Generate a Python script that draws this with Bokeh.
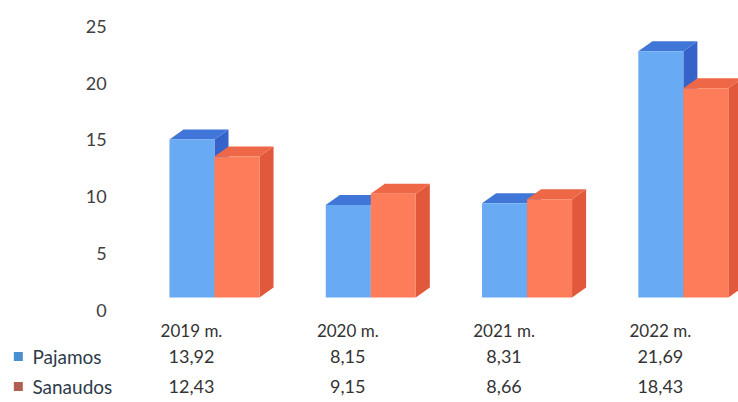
from bokeh.plotting import figure
from bokeh.models import Range1d
from bokeh.core.properties import value
from bokeh.embed import file_html
from bokeh.resources import INLINE

# ---- data ----
categories = ["2019 m.", "2020 m.", "2021 m.", "2022 m."]
series_names = ["Pajamos", "Sanaudos"]
pajamos = [13.92, 8.15, 8.31, 21.69]
sanaudos = [12.43, 9.15, 8.66, 18.43]
y_ticks = [0, 5, 10, 15, 20, 25]

def fmt(v):
    return f"{v:.2f}".replace(".", ",")

# ---- style ----
FONT = value("Lato")
BAR_W = 0.288          # width of one bar (category units)
DX, DY = 0.09, 0.88    # 3D depth offset (category units, value units)
COLORS = {
    "Pajamos": dict(front="#69aaf4", top="#3f76d8", side="#3563c9", key="#4a8fd0"),
    "Sanaudos": dict(front="#fd7c59", top="#ee6747", side="#e1583b", key="#b0604f"),
}

p = figure(width=738, height=402, output_backend="svg", toolbar_location=None,
           x_range=Range1d(-1.369, 3.353), y_range=Range1d(-9.25, 26.17),
           min_border=0)
p.axis.visible = False
p.grid.visible = False
p.outline_line_color = None
p.background_fill_color = "white"
p.border_fill_color = "white"

# ---- 3D bars ----
for i in range(len(categories)):
    for s, (name, vals) in enumerate(zip(series_names, [pajamos, sanaudos])):
        c = COLORS[name]
        v = vals[i]
        x0 = i - BAR_W + s * BAR_W
        x1 = x0 + BAR_W
        # side face
        p.patch([x1, x1 + DX, x1 + DX, x1], [0, DY, v + DY, v],
                fill_color=c["side"], line_color=None)
        # top face
        p.patch([x0, x1, x1 + DX, x0 + DX], [v, v, v + DY, v + DY],
                fill_color=c["top"], line_color=None)
        # front face
        p.quad(left=[x0], right=[x1], bottom=[0], top=[v],
               fill_color=c["front"], line_color=None)

# ---- y tick labels (on back wall) ----
p.text(x=[-0.69] * len(y_ticks), y=[t - 1.12 for t in y_ticks],
       text=[str(t) for t in y_ticks], text_align="right", text_baseline="middle",
       text_font=FONT, text_font_size="18px", text_color="#404040")

# ---- data table ----
col_x = [i - 0.147 for i in range(len(categories))]
p.text(x=col_x, y=[-2.9] * len(categories), text=categories,
       text_align="center", text_baseline="middle", text_font=FONT,
       text_font_size="17px", text_color="#333333")
row_y = [-5.2, -7.85]
for name, vals, ry in zip(series_names, [pajamos, sanaudos], row_y):
    p.text(x=col_x, y=[ry] * len(vals), text=[fmt(v) for v in vals],
           text_align="center", text_baseline="middle", text_font=FONT,
           text_font_size="18px", text_color="#333333")
    p.scatter(x=[-1.255], y=[ry], marker="square", size=9,
              fill_color=COLORS[name]["key"], line_color=None)
    p.text(x=[-1.165], y=[ry], text=[name], text_align="left", text_baseline="middle",
           text_font=FONT, text_font_size="19px", text_color="#2e3b4a")

open("out.html", "w").write(file_html(p, INLINE))
